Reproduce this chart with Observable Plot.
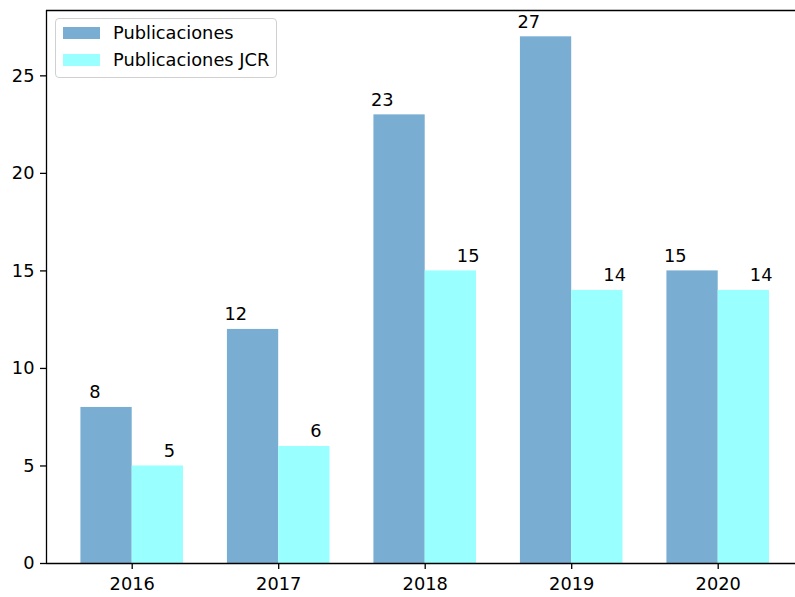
<!DOCTYPE html>
<html><head><meta charset="utf-8">
<script src="https://cdn.jsdelivr.net/npm/d3@7"></script>
<script src="https://cdn.jsdelivr.net/npm/@observablehq/plot@0.6"></script>
<style>
body{margin:0;background:#fff;}
#wrap{position:relative;width:795px;height:597px;overflow:hidden;font-family:"DejaVu Sans",sans-serif;background:#fff;}
#chart svg{overflow:hidden;}
#legend{position:absolute;left:55px;top:18px;border:1px solid #d0d0d0;border-radius:4px;background:rgba(255,255,255,0.8);padding:0 7px 4px 7px;font-size:17.8px;color:#000;}
.row{display:flex;align-items:center;height:27px;}
.sw{width:37px;height:12px;margin-right:13px;}
</style></head><body>
<div id="wrap"><div id="chart"></div><div id="legend"></div></div>
<script>
const years = ["2016", "2017", "2018", "2019", "2020"];
const publicaciones = [8, 12, 23, 27, 15];
const publicacionesJCR = [5, 6, 15, 14, 14];
const seriesNames = ["Publicaciones", "Publicaciones JCR"];
const seriesColors = ["#79add2", "#99ffff"];
const yTicks = [0, 5, 10, 15, 20, 25];

const barWidth = 0.35;
const rows = years.flatMap((y, i) => [
  {year: y, series: seriesNames[0], value: publicaciones[i], x1: i - barWidth, x2: i},
  {year: y, series: seriesNames[1], value: publicacionesJCR[i], x1: i, x2: i + barWidth}
]);
const ymax = d3.max(rows, d => d.value) * 1.05;
const span = (years.length - 1) + 2 * barWidth;
const xlo = -barWidth - span * 0.05;
const xhi = (years.length - 1) + barWidth + span * 0.05;

const chart = Plot.plot({
  width: 795,
  height: 597,
  marginLeft: 46,
  marginRight: 0,
  marginTop: 10,
  marginBottom: 34,
  style: {fontFamily: "DejaVu Sans", fontSize: "17.8px", color: "#000", background: "#fff"},
  x: {domain: [xlo, xhi], range: [46, 803.4]},
  y: {domain: [0, ymax]},
  color: {domain: seriesNames, range: seriesColors},
  marks: [
    Plot.rect(rows, {x1: "x1", x2: "x2", y1: 0, y2: "value", fill: "series"}),
    Plot.text(rows.filter(d => d.series === seriesNames[0]), {
      x: d => (d.x1 + d.x2) / 2, y: "value", text: d => String(d.value),
      textAnchor: "end", lineAnchor: "bottom", dx: -6, dy: -9, fill: "#000"
    }),
    Plot.text(rows.filter(d => d.series === seriesNames[1]), {
      x: d => (d.x1 + d.x2) / 2, y: "value", text: d => String(d.value),
      textAnchor: "start", lineAnchor: "bottom", dx: 6, dy: -9, fill: "#000"
    }),
    Plot.axisX({ticks: d3.range(years.length), tickFormat: i => years[i], tickSize: 6, tickPadding: 8, label: null, strokeWidth: 1.3}),
    Plot.axisY({ticks: yTicks, tickSize: 6, tickPadding: 6, label: null, strokeWidth: 1.3}),
    Plot.ruleY([0, ymax], {stroke: "#000", strokeWidth: 1.3}),
    Plot.ruleX([xlo, xhi], {stroke: "#000", strokeWidth: 1.3})
  ]
});
document.getElementById("chart").appendChild(chart);

const legend = document.getElementById("legend");
seriesNames.forEach((name, k) => {
  const row = document.createElement("div");
  row.className = "row";
  const sw = document.createElement("div");
  sw.className = "sw";
  sw.style.background = seriesColors[k];
  const label = document.createElement("span");
  label.textContent = name;
  row.appendChild(sw);
  row.appendChild(label);
  legend.appendChild(row);
});
</script>
</body></html>
